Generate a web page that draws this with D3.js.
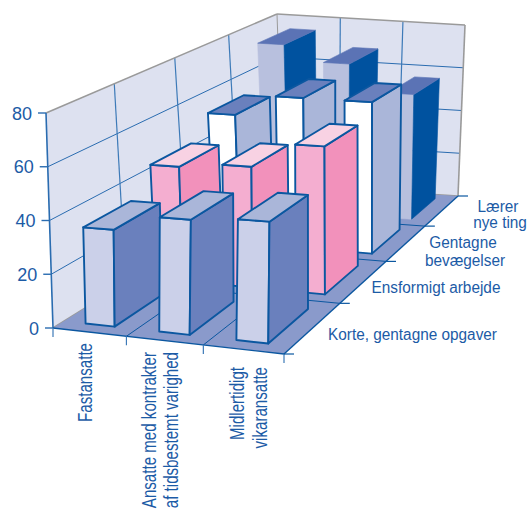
<!DOCTYPE html>
<html><head><meta charset="utf-8">
<script src="https://cdn.jsdelivr.net/npm/d3@7"></script>
<style>html,body{margin:0;background:#fff}svg{display:block}text{font-family:"Liberation Sans",Arial,sans-serif;fill:#1c5ba6}</style>
</head><body><svg id="c" width="528" height="513"></svg>
<script>
// Job type groups along the front edge, work characteristics going into the depth
const categories = ["Fastansatte", "Ansatte med kontrakter|af tidsbestemt varighed", "Midlertidigt|vikaransatte"];
const series = ["Korte, gentagne opgaver", "Ensformigt arbejde", "Gentagne|bevægelser", "Lærer|nye ting"];
const korte = [36, 42, 43.5];
const ensformigt = [46, 48, 58];
const gentagne = [55, 64, 64];
const laerer = [75, 68, 56];
const zTicks = [0, 20, 40, 60, 80];
const rows = [korte, ensformigt, gentagne, laerer];

const faceColours = [
  {front:"#cbd0e9", side:"#6a80bd", top:"#aab6d9"},
  {front:"#f4aed0", side:"#f291bb", top:"#f8d2e3"},
  {front:"#ffffff", side:"#aab6d9", top:"#6a80bd"},
  {front:"#b8c0de", side:"#00529f", top:"#5b73b5"}
];
const ink = "#0b57a0", frame = "#9a9a9a";

// Perspective map of the unit square onto a quadrilateral
function quadMap(a, b, c, d) {
  const dx1 = b[0]-c[0], dx2 = d[0]-c[0], sx = a[0]-b[0]+c[0]-d[0];
  const dy1 = b[1]-c[1], dy2 = d[1]-c[1], sy = a[1]-b[1]+c[1]-d[1];
  const det = dx1*dy2-dx2*dy1;
  const g = (sx*dy2-dx2*sy)/det, h = (dx1*sy-sx*dy1)/det;
  const p = [b[0]-a[0]+g*b[0], d[0]-a[0]+h*d[0], a[0], b[1]-a[1]+g*b[1], d[1]-a[1]+h*d[1], a[1]];
  return (u, v) => {
    const w = g*u+h*v+1;
    return [(p[0]*u+p[1]*v+p[2])/w, (p[3]*u+p[4]*v+p[5])/w];
  };
}
const floorMap = quadMap([53,328],[284,354],[458,196],[283,185]);
const ceilMap  = quadMap([46,113],[286,125],[465,25],[277,14]);

const zScale = d3.scaleLinear().domain([0,80]).range([0,1]);
const uScale = d3.scaleBand().domain(d3.range(3)).range([0,1]).paddingInner(0.6).paddingOuter(0.3);
const vScale = d3.scaleBand().domain(d3.range(4)).range([0,1]).paddingInner(0.32).paddingOuter(0.14);

function P(u, v, z) {
  const f = floorMap(u,v), c = ceilMap(u,v), t = zScale(z);
  return [f[0]+(c[0]-f[0])*t, f[1]+(c[1]-f[1])*t];
}

const svg = d3.select("#c");
const line = d3.line();
function poly(pts, fill, stroke, sw) {
  svg.append("path").attr("d", line(pts)+"Z").attr("fill", fill)
    .attr("stroke", stroke||"none").attr("stroke-width", sw||0).attr("stroke-linejoin","round");
}
function seg(a, b, stroke, sw) {
  svg.append("path").attr("d", line([a,b])).attr("fill","none").attr("stroke",stroke).attr("stroke-width",sw);
}

// Walls and floor
poly([P(0,0,0),P(0,1,0),P(0,1,80),P(0,0,80)], "#dde1f0");
poly([P(0,1,0),P(1,1,0),P(1,1,80),P(0,1,80)], "#dde1f0");
zTicks.filter(t=>t>0&&t<80).forEach(t=>{
  seg(P(0,0,t),P(0,1,t),"#2a6cb0",1);
  seg(P(0,1,t),P(1,1,t),"#2a6cb0",1);
});
[0.25,0.5,0.75].forEach(v=>seg(P(0,v,0),P(0,v,80),"#3d7ab8",1.2));
[1/3,2/3].forEach(u=>seg(P(u,1,0),P(u,1,80),"#3d7ab8",1.2));
seg(P(0,0,0),P(0,1,0),frame,1.5);
seg(P(0,1,0),P(1,1,0),frame,1.5);
seg(P(0,0,80),P(0,1,80),frame,1.6);
seg(P(0,1,80),P(1,1,80),frame,1.6);
seg(P(1,1,80),P(1,1,0),frame,1.6);
seg(P(0,1,80),P(0,1,0),frame,1);
seg(P(0,0,0),P(0,0,80),"#2a6cb0",1.6);

poly([P(0,0,0),P(1,0,0),P(1,1,0),P(0,1,0)], "#8a9acb");
[1/3,2/3].forEach(u=>seg(P(u,0,0),P(u,1,0),ink,1));
[0.25,0.5,0.75].forEach(v=>seg(P(0,v,0),P(1,v,0),ink,1));
seg(P(0,0,0),P(1,0,0),ink,1.4);
seg(P(1,0,0),P(1,1,0),ink,1.4);

// Axis ticks
zTicks.forEach(t=>{
  const p = P(0,0,t);
  seg([p[0]-8,p[1]],p,"#2a6cb0",1.4);
  svg.append("text").attr("x",p[0]-14).attr("y",p[1]+6.5).attr("text-anchor","end")
    .attr("font-size",18).text(t);
});
[0,1/3,2/3,1].forEach(u=>{const p=P(u,0,0); seg(p,[p[0],p[1]+9],"#3d7ab8",1.2);});
[0,0.25,0.5,0.75,1].forEach(v=>{const p=P(1,v,0); seg(p,[p[0]+10,p[1]],ink,1.2);});

// Bars, back row first and left to right inside each row
d3.range(3,-1,-1).forEach(r=>{
  const c = faceColours[r], v0 = vScale(r), v1 = v0+vScale.bandwidth();
  const sw = r===3 ? 0.6 : 1.9, st = r===3 ? c.side : ink;
  d3.range(3).forEach(i=>{
    const u0 = uScale(i), u1 = u0+uScale.bandwidth(), z = rows[r][i];
    poly([P(u0,v0,0),P(u1,v0,0),P(u1,v0,z),P(u0,v0,z)], c.front, r===3?c.front:st, sw);
    poly([P(u1,v0,0),P(u1,v1,0),P(u1,v1,z),P(u1,v0,z)], c.side, st, sw);
    poly([P(u0,v0,z),P(u1,v0,z),P(u1,v1,z),P(u0,v1,z)], c.top, r===3?c.top:st, sw);
  });
});

// Category labels: rotated, condensed along the reading direction, hanging from the front edge
const catX = [[92],[156,178],[244,267]];
const catTop = [343,352,367];
categories.forEach((s,i)=>{
  s.split("|").forEach((t,j)=>{
    svg.append("text").attr("transform",`translate(${catX[i][j]},${catTop[i]}) rotate(-90) scale(0.72,1)`)
      .attr("text-anchor","end").attr("font-size",21).text(t);
  });
});

// Series labels beside the right floor edge
const seriesPos = [[[412.5,340]],[[436,293]],[[463,248],[465,266]],[[498,212],[500,228]]];
series.forEach((s,i)=>{
  s.split("|").forEach((t,j)=>{
    svg.append("text").attr("transform",`translate(${seriesPos[i][j][0]},${seriesPos[i][j][1]}) scale(0.96,1)`)
      .attr("text-anchor","middle").attr("font-size",16).text(t);
  });
});
</script></body></html>
